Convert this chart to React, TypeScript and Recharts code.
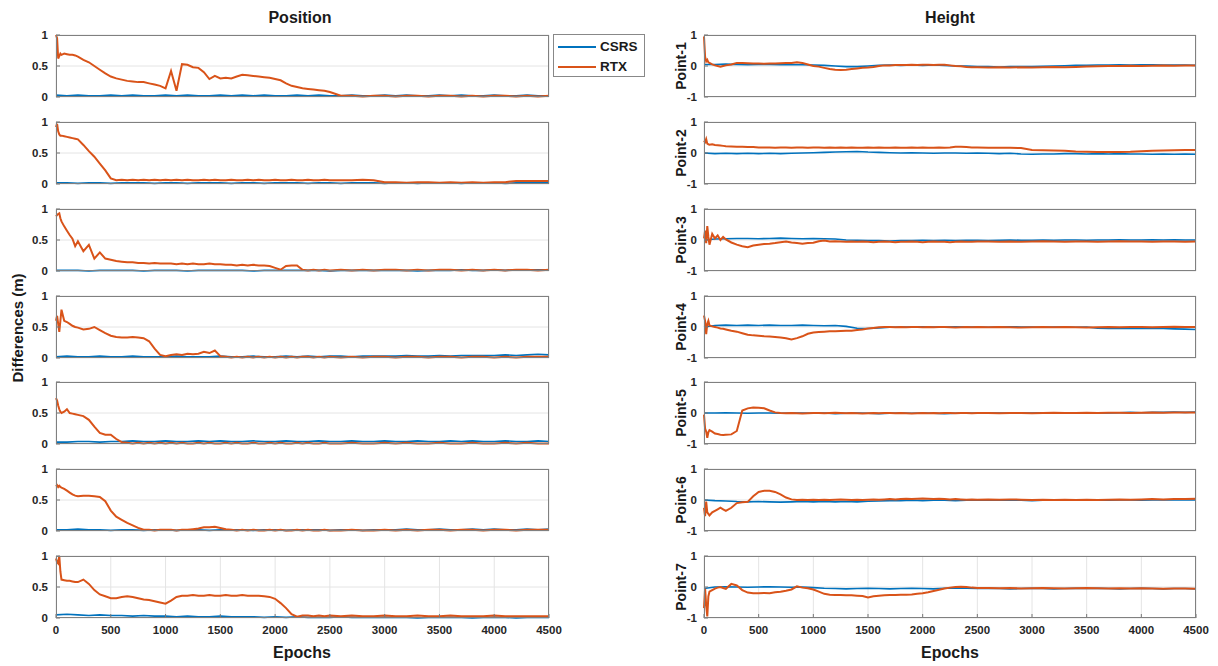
import { LineChart, Line, XAxis, YAxis, CartesianGrid } from "recharts";

const EPOCHS_RTX = [
  0, 10, 20, 30, 40, 50, 75, 100, 125, 150, 175, 200,
  250, 300, 350, 400, 450, 500, 550, 600, 650, 700, 750, 800, 850, 900, 950, 1000,
  1050, 1100, 1150, 1200, 1250, 1300, 1350, 1400, 1450, 1500, 1550, 1600, 1650, 1700, 1750,
  1800, 1850, 1900, 1950, 2000, 2050, 2100, 2150, 2200, 2250, 2300, 2350, 2400, 2450, 2500,
  2600, 2700, 2800, 2900, 3000, 3100, 3200, 3300, 3400, 3500, 3600, 3700, 3800, 3900, 4000,
  4100, 4200, 4300, 4400, 4500,
];

const EPOCHS_CSRS = [
  0, 100, 200, 300, 400, 500, 600, 700, 800, 900,
  1000, 1100, 1200, 1300, 1400, 1500, 1600, 1700, 1800, 1900,
  2000, 2100, 2200, 2300, 2400, 2500, 2600, 2700, 2800, 2900,
  3000, 3100, 3200, 3300, 3400, 3500, 3600, 3700, 3800, 3900,
  4000, 4100, 4200, 4300, 4400, 4500,
];

const X_TICKS = [0, 500, 1000, 1500, 2000, 2500, 3000, 3500, 4000, 4500];
const POS_TICKS = [0, 0.5, 1];
const HGT_TICKS = [-1, 0, 1];
const POINT_LABELS = ["Point-1", "Point-2", "Point-3", "Point-4", "Point-5", "Point-6", "Point-7"];

// ---- Position, RTX ----
const POS_RTX_1 = [
  1.0, 0.95, 0.62, 0.66, 0.7, 0.68, 0.7, 0.69, 0.68, 0.68, 0.67, 0.65,
  0.6, 0.56, 0.5, 0.44, 0.38, 0.33, 0.3, 0.28, 0.26, 0.25, 0.24, 0.24, 0.22, 0.2, 0.18, 0.14,
  0.42, 0.1, 0.53, 0.52, 0.48, 0.47, 0.4, 0.29, 0.34, 0.3, 0.31, 0.3, 0.33, 0.36, 0.35,
  0.34, 0.33, 0.32, 0.31, 0.29, 0.27, 0.22, 0.18, 0.16, 0.14, 0.13, 0.12, 0.11, 0.1, 0.08,
  0.02, 0.02, 0.01, 0.02, 0.02, 0.01, 0.02, 0.02, 0.01, 0.02, 0.02, 0.01, 0.02, 0.01, 0.02,
  0.02, 0.01, 0.02, 0.01, 0.02,
];
const POS_RTX_2 = [
  0.92, 0.97, 0.85, 0.8, 0.78, 0.78, 0.77, 0.76, 0.75, 0.74, 0.73, 0.72,
  0.63, 0.53, 0.44, 0.33, 0.22, 0.09, 0.06, 0.07, 0.06, 0.07, 0.06, 0.07, 0.06, 0.07, 0.06, 0.07,
  0.06, 0.07, 0.06, 0.07, 0.06, 0.06, 0.07, 0.06, 0.07, 0.06, 0.06, 0.07, 0.06, 0.06, 0.07,
  0.06, 0.07, 0.06, 0.06, 0.07, 0.06, 0.06, 0.07, 0.06, 0.06, 0.07, 0.06, 0.06, 0.07, 0.06,
  0.06, 0.06, 0.07, 0.06, 0.03, 0.03, 0.02, 0.03, 0.03, 0.02, 0.03, 0.02, 0.03, 0.02, 0.03,
  0.03, 0.05, 0.05, 0.05, 0.05,
];
const POS_RTX_3 = [
  0.88, 0.9, 0.92, 0.93, 0.85, 0.8, 0.72, 0.65, 0.58, 0.52, 0.4, 0.48,
  0.32, 0.42, 0.2, 0.3, 0.2, 0.18, 0.16, 0.15, 0.14, 0.14, 0.13, 0.13, 0.12, 0.13, 0.12, 0.12,
  0.12, 0.11, 0.12, 0.11, 0.12, 0.11, 0.11, 0.12, 0.11, 0.11, 0.1, 0.1, 0.09, 0.1, 0.09,
  0.1, 0.09, 0.09, 0.08, 0.05, 0.02, 0.08, 0.09, 0.09, 0.02, 0.01, 0.02, 0.01, 0.02, 0.01,
  0.02, 0.01, 0.02, 0.01, 0.02, 0.02, 0.01, 0.02, 0.01, 0.02, 0.02, 0.01, 0.02, 0.01, 0.02,
  0.01, 0.02, 0.02, 0.01, 0.02,
];
const POS_RTX_4 = [
  0.6, 0.68, 0.55, 0.42, 0.6, 0.78, 0.6, 0.58, 0.55, 0.52, 0.5, 0.49,
  0.46, 0.47, 0.5, 0.45, 0.4, 0.36, 0.34, 0.33, 0.33, 0.34, 0.33, 0.32, 0.27, 0.15, 0.05, 0.03,
  0.05, 0.06, 0.05, 0.07, 0.06, 0.07, 0.1, 0.08, 0.12, 0.03, 0.02, 0.01, 0.02, 0.01, 0.02,
  0.01, 0.02, 0.01, 0.02, 0.01, 0.02, 0.01, 0.02, 0.01, 0.02, 0.02, 0.01, 0.02, 0.01, 0.02,
  0.01, 0.02, 0.01, 0.02, 0.02, 0.01, 0.02, 0.02, 0.01, 0.02, 0.02, 0.01, 0.02, 0.02, 0.01,
  0.02, 0.01, 0.02, 0.02, 0.02,
];
const POS_RTX_5 = [
  0.74, 0.7, 0.62, 0.56, 0.52, 0.5, 0.52, 0.56, 0.5, 0.49, 0.48, 0.47,
  0.45, 0.39, 0.28, 0.18, 0.15, 0.15, 0.08, 0.03, 0.02, 0.01, 0.02, 0.01, 0.02, 0.01, 0.02, 0.01,
  0.02, 0.01, 0.02, 0.01, 0.01, 0.02, 0.01, 0.02, 0.01, 0.01, 0.02, 0.01, 0.02, 0.01, 0.01,
  0.02, 0.01, 0.01, 0.02, 0.01, 0.02, 0.01, 0.01, 0.02, 0.01, 0.02, 0.01, 0.01, 0.02, 0.01,
  0.01, 0.02, 0.01, 0.01, 0.02, 0.01, 0.02, 0.01, 0.01, 0.02, 0.01, 0.01, 0.02, 0.01, 0.01,
  0.02, 0.01, 0.02, 0.01, 0.01,
];
const POS_RTX_6 = [
  0.72, 0.74, 0.71, 0.73, 0.71, 0.7, 0.68, 0.65, 0.62, 0.59, 0.57, 0.56,
  0.57, 0.57, 0.56, 0.55, 0.48, 0.33, 0.23, 0.18, 0.13, 0.09, 0.05, 0.02, 0.02, 0.01, 0.02, 0.02,
  0.02, 0.01, 0.02, 0.02, 0.03, 0.04, 0.06, 0.06, 0.07, 0.05, 0.03, 0.02, 0.01, 0.02, 0.01,
  0.02, 0.01, 0.01, 0.02, 0.01, 0.02, 0.01, 0.01, 0.02, 0.01, 0.02, 0.01, 0.01, 0.02, 0.01,
  0.01, 0.02, 0.01, 0.01, 0.02, 0.01, 0.02, 0.01, 0.02, 0.02, 0.01, 0.02, 0.02, 0.01, 0.02,
  0.02, 0.01, 0.02, 0.02, 0.02,
];
const POS_RTX_7 = [
  0.96, 0.9, 0.88, 1.0, 0.75, 0.62, 0.61, 0.6, 0.6, 0.59, 0.58, 0.58,
  0.62, 0.55, 0.45, 0.38, 0.35, 0.32, 0.32, 0.34, 0.35, 0.34, 0.32, 0.3, 0.29, 0.27, 0.25, 0.23,
  0.28, 0.34, 0.36, 0.36, 0.37, 0.36, 0.36, 0.37, 0.36, 0.36, 0.37, 0.36, 0.36, 0.37, 0.36,
  0.36, 0.36, 0.35, 0.34, 0.31, 0.24, 0.16, 0.06, 0.02, 0.04, 0.04, 0.03, 0.04, 0.03, 0.04,
  0.03, 0.04, 0.03, 0.03, 0.04, 0.03, 0.03, 0.04, 0.03, 0.03, 0.04, 0.03, 0.03, 0.03, 0.04,
  0.03, 0.03, 0.03, 0.03, 0.03,
];

// ---- Position, CSRS ----
const POS_CSRS_1 = [
  0.03, 0.02, 0.03, 0.02, 0.02, 0.03, 0.02, 0.03, 0.02, 0.02,
  0.03, 0.02, 0.03, 0.02, 0.02, 0.03, 0.02, 0.03, 0.02, 0.03,
  0.02, 0.02, 0.03, 0.02, 0.03, 0.02, 0.02, 0.03, 0.02, 0.02,
  0.03, 0.02, 0.03, 0.02, 0.02, 0.03, 0.02, 0.03, 0.02, 0.02,
  0.03, 0.02, 0.02, 0.03, 0.02, 0.02,
];
const POS_CSRS_2 = [
  0.02, 0.02, 0.01, 0.02, 0.02, 0.01, 0.02, 0.02, 0.02, 0.01,
  0.02, 0.02, 0.01, 0.02, 0.02, 0.02, 0.01, 0.02, 0.02, 0.01,
  0.02, 0.02, 0.02, 0.01, 0.02, 0.02, 0.01, 0.02, 0.02, 0.02,
  0.01, 0.02, 0.02, 0.01, 0.02, 0.02, 0.02, 0.01, 0.02, 0.02,
  0.02, 0.01, 0.02, 0.02, 0.02, 0.02,
];
const POS_CSRS_3 = [
  0.01, 0.01, 0.01, 0.0, 0.01, 0.01, 0.01, 0.01, 0.0, 0.01,
  0.01, 0.01, 0.0, 0.01, 0.01, 0.01, 0.01, 0.01, 0.0, 0.01,
  0.01, 0.01, 0.01, 0.01, 0.01, 0.0, 0.01, 0.01, 0.01, 0.01,
  0.01, 0.01, 0.01, 0.0, 0.01, 0.01, 0.01, 0.02, 0.01, 0.01,
  0.02, 0.01, 0.02, 0.02, 0.02, 0.02,
];
const POS_CSRS_4 = [
  0.02, 0.03, 0.02, 0.02, 0.03, 0.02, 0.02, 0.03, 0.02, 0.02,
  0.02, 0.03, 0.02, 0.02, 0.02, 0.03, 0.02, 0.02, 0.03, 0.02,
  0.02, 0.03, 0.02, 0.03, 0.02, 0.03, 0.03, 0.02, 0.03, 0.03,
  0.03, 0.03, 0.04, 0.03, 0.03, 0.04, 0.03, 0.04, 0.04, 0.04,
  0.04, 0.05, 0.04, 0.05, 0.06, 0.05,
];
const POS_CSRS_5 = [
  0.03, 0.03, 0.04, 0.04, 0.03, 0.04, 0.04, 0.05, 0.04, 0.04,
  0.05, 0.04, 0.04, 0.05, 0.04, 0.05, 0.04, 0.04, 0.05, 0.04,
  0.04, 0.05, 0.04, 0.04, 0.05, 0.04, 0.04, 0.05, 0.04, 0.04,
  0.05, 0.04, 0.04, 0.05, 0.04, 0.04, 0.05, 0.04, 0.05, 0.04,
  0.04, 0.05, 0.04, 0.04, 0.05, 0.04,
];
const POS_CSRS_6 = [
  0.02, 0.02, 0.03, 0.02, 0.02, 0.01, 0.02, 0.02, 0.01, 0.02,
  0.02, 0.01, 0.02, 0.02, 0.01, 0.02, 0.02, 0.02, 0.01, 0.02,
  0.02, 0.01, 0.02, 0.02, 0.02, 0.01, 0.02, 0.02, 0.01, 0.02,
  0.02, 0.02, 0.03, 0.02, 0.02, 0.03, 0.02, 0.02, 0.03, 0.02,
  0.03, 0.02, 0.02, 0.03, 0.02, 0.03,
];
const POS_CSRS_7 = [
  0.05, 0.06, 0.05, 0.04, 0.05, 0.04, 0.04, 0.03, 0.04, 0.03,
  0.03, 0.02, 0.03, 0.02, 0.02, 0.03, 0.02, 0.02, 0.02, 0.01,
  0.02, 0.01, 0.02, 0.01, 0.01, 0.01, 0.02, 0.01, 0.01, 0.01,
  0.01, 0.01, 0.01, 0.0, 0.01, 0.01, 0.01, 0.01, 0.0, 0.01,
  0.01, 0.01, 0.0, 0.01, 0.01, 0.01,
];

// ---- Height, RTX ----
const HGT_RTX_1 = [
  0.95, 0.3, 0.15, 0.2, 0.12, 0.1, 0.05, 0.02, 0.0, -0.02, 0.0, 0.02,
  0.05, 0.1, 0.1, 0.09, 0.08, 0.08, 0.07, 0.08, 0.08, 0.09, 0.1, 0.1, 0.12, 0.1, 0.05, 0.0,
  -0.02, -0.06, -0.1, -0.12, -0.13, -0.12, -0.1, -0.08, -0.06, -0.05, -0.03, 0.0, 0.02, 0.02, 0.03,
  0.03, 0.03, 0.04, 0.03, 0.04, 0.04, 0.03, 0.04, 0.04, 0.02, 0.0, -0.01, -0.03, -0.04, -0.04,
  -0.05, -0.04, -0.05, -0.04, -0.05, -0.04, -0.03, -0.04, -0.03, -0.02, -0.01, 0.0, 0.0, 0.01, 0.0,
  0.01, 0.02, 0.01, 0.02, 0.02,
];
const HGT_RTX_2 = [
  0.4, 0.35, 0.45, 0.3, 0.28, 0.27, 0.28, 0.26, 0.25, 0.24, 0.23, 0.22,
  0.21, 0.2, 0.2, 0.19, 0.19, 0.18, 0.18, 0.18, 0.17, 0.18, 0.18, 0.17, 0.18, 0.18, 0.17, 0.18,
  0.18, 0.17, 0.18, 0.17, 0.18, 0.17, 0.18, 0.17, 0.17, 0.18, 0.17, 0.18, 0.17, 0.17, 0.18,
  0.17, 0.17, 0.18, 0.17, 0.18, 0.17, 0.17, 0.18, 0.17, 0.18, 0.2, 0.2, 0.19, 0.18, 0.18,
  0.17, 0.17, 0.17, 0.16, 0.1, 0.09, 0.08, 0.07, 0.05, 0.04, 0.03, 0.03, 0.03, 0.04, 0.06,
  0.07, 0.08, 0.09, 0.1, 0.1,
];
const HGT_RTX_3 = [
  0.05, 0.3, -0.1, 0.45, 0.1, -0.15, 0.2, 0.05, 0.15, 0.0, 0.1, 0.02,
  -0.08, -0.15, -0.2, -0.23, -0.18, -0.15, -0.13, -0.12, -0.1, -0.07, -0.05, -0.08, -0.1, -0.12, -0.1, -0.09,
  -0.04, -0.02, -0.05, -0.04, -0.05, -0.06, -0.05, -0.06, -0.05, -0.06, -0.07, -0.06, -0.05, -0.06, -0.07,
  -0.06, -0.06, -0.05, -0.06, -0.07, -0.06, -0.05, -0.06, -0.06, -0.07, -0.06, -0.05, -0.06, -0.06, -0.05,
  -0.05, -0.06, -0.05, -0.06, -0.05, -0.04, -0.05, -0.06, -0.05, -0.05, -0.06, -0.05, -0.04, -0.05, -0.05,
  -0.06, -0.05, -0.05, -0.06, -0.05,
];
const HGT_RTX_4 = [
  0.37, 0.2, -0.23, 0.1, 0.2, 0.05, 0.02, 0.0, -0.02, -0.05, -0.06, -0.08,
  -0.12, -0.15, -0.2, -0.25, -0.27, -0.28, -0.3, -0.31, -0.32, -0.34, -0.36, -0.4, -0.36, -0.3, -0.22, -0.18,
  -0.16, -0.15, -0.14, -0.14, -0.13, -0.12, -0.12, -0.1, -0.08, -0.05, -0.03, -0.01, 0.0, 0.0, -0.01,
  0.0, -0.01, 0.0, 0.0, -0.01, 0.0, -0.01, 0.0, 0.0, -0.01, -0.02, -0.01, 0.0, -0.01, 0.0,
  -0.01, 0.0, -0.01, -0.02, -0.01, 0.0, -0.01, 0.0, -0.01, -0.02, -0.01, 0.0, -0.01, 0.0, 0.0,
  -0.01, 0.0, 0.01, 0.0, 0.0,
];
const HGT_RTX_5 = [
  -0.05, -0.5, -0.6, -0.8, -0.62, -0.55, -0.6, -0.66, -0.68, -0.7, -0.71, -0.7,
  -0.69, -0.58, 0.08, 0.15, 0.18, 0.17, 0.15, 0.08, 0.02, 0.0, -0.01, 0.0, -0.01, -0.02, -0.01, 0.0,
  0.0, -0.01, 0.0, 0.01, 0.0, -0.01, 0.0, -0.01, -0.02, -0.01, 0.0, -0.01, 0.0, 0.0, -0.01,
  0.0, -0.01, -0.02, -0.01, 0.0, -0.01, 0.0, -0.01, 0.0, 0.0, -0.01, 0.0, 0.0, -0.01, 0.0,
  0.0, -0.01, 0.0, 0.0, -0.01, 0.0, 0.01, 0.0, 0.0, 0.01, 0.0, 0.01, 0.01, 0.0, 0.01,
  0.02, 0.01, 0.02, 0.02, 0.02,
];
const HGT_RTX_6 = [
  -0.25, -0.52, -0.05, -0.4, -0.45, -0.5, -0.4, -0.35, -0.3, -0.25, -0.3, -0.35,
  -0.25, -0.1, -0.07, -0.06, 0.12, 0.26, 0.3, 0.3, 0.26, 0.18, 0.08, 0.02, 0.0, 0.01, 0.0, 0.01,
  0.0, 0.01, 0.0, 0.01, 0.02, 0.01, 0.0, 0.01, 0.0, 0.01, 0.02, 0.01, 0.02, 0.03, 0.02,
  0.03, 0.04, 0.03, 0.04, 0.05, 0.04, 0.03, 0.04, 0.03, 0.02, 0.03, 0.02, 0.01, 0.02, 0.01,
  0.02, 0.01, 0.02, 0.01, 0.0, 0.01, 0.0, 0.01, 0.0, 0.01, 0.0, 0.01, 0.02, 0.01, 0.02,
  0.03, 0.02, 0.03, 0.03, 0.04,
];
const HGT_RTX_7 = [
  -0.68, -0.05, -0.6, -0.95, -0.3, -0.15, -0.1, -0.05, -0.02, 0.0, -0.03, -0.06,
  0.1, 0.05, -0.1, -0.18, -0.2, -0.2, -0.19, -0.2, -0.17, -0.15, -0.12, -0.08, 0.02, -0.02, -0.04, -0.08,
  -0.15, -0.22, -0.25, -0.26, -0.26, -0.27, -0.27, -0.28, -0.29, -0.34, -0.3, -0.28, -0.27, -0.26, -0.26,
  -0.25, -0.25, -0.24, -0.22, -0.2, -0.17, -0.13, -0.09, -0.05, -0.02, 0.0, 0.01, 0.0, -0.02, -0.03,
  -0.03, -0.04, -0.03, -0.05, -0.04, -0.03, -0.04, -0.05, -0.04, -0.03, -0.04, -0.05, -0.04, -0.05, -0.04,
  -0.05, -0.06, -0.05, -0.05, -0.06,
];

// ---- Height, CSRS ----
const HGT_CSRS_1 = [
  0.05, 0.05, 0.06, 0.05, 0.04, 0.05, 0.05, 0.04, 0.05, 0.04,
  0.03, 0.02, 0.0, -0.02, -0.02, 0.0, 0.02, 0.03, 0.02, 0.03,
  0.02, 0.03, 0.02, 0.0, 0.0, -0.02, -0.02, -0.03, -0.02, -0.02,
  -0.02, -0.01, 0.0, 0.01, 0.02, 0.02, 0.03, 0.03, 0.04, 0.03,
  0.04, 0.04, 0.03, 0.03, 0.03, 0.02,
];
const HGT_CSRS_2 = [
  0.0, -0.02, -0.01, -0.02, -0.01, -0.02, -0.01, -0.02, -0.01, 0.0,
  0.01, 0.02, 0.03, 0.04, 0.05, 0.03, 0.02, 0.01, 0.0, 0.01,
  0.0, -0.01, 0.0, 0.0, -0.01, 0.0, -0.01, -0.02, -0.01, -0.03,
  -0.04, -0.03, -0.03, -0.02, -0.02, -0.03, -0.02, -0.03, -0.02, -0.03,
  -0.03, -0.04, -0.03, -0.04, -0.03, -0.04,
];
const HGT_CSRS_3 = [
  0.0, 0.03, 0.04, 0.05, 0.05, 0.04, 0.05, 0.06, 0.05, 0.04,
  0.05, 0.04, 0.03, 0.0, -0.01, -0.02, -0.02, -0.03, -0.02, -0.02,
  -0.01, -0.02, -0.01, -0.02, -0.01, -0.01, -0.02, -0.01, 0.0, -0.01,
  -0.01, 0.0, -0.01, 0.0, 0.0, -0.01, 0.0, 0.0, 0.01, 0.0,
  0.0, 0.01, 0.0, 0.01, 0.0, 0.0,
];
const HGT_CSRS_4 = [
  0.0, 0.05, 0.06, 0.05, 0.06, 0.05, 0.06, 0.05, 0.05, 0.06,
  0.05, 0.04, 0.05, 0.02, -0.04, -0.05, -0.03, -0.01, 0.0, 0.0,
  0.01, 0.0, 0.0, 0.01, 0.0, 0.0, -0.01, 0.0, 0.01, 0.0,
  0.0, -0.01, 0.0, 0.0, -0.01, 0.0, -0.04, -0.05, -0.04, -0.05,
  -0.04, -0.05, -0.05, -0.06, -0.07, -0.08,
];
const HGT_CSRS_5 = [
  0.0, 0.0, 0.01, 0.0, -0.01, 0.0, 0.0, -0.01, 0.0, 0.0,
  -0.01, 0.0, -0.02, -0.01, 0.0, -0.01, -0.02, -0.01, 0.0, -0.01,
  0.0, -0.01, -0.02, -0.01, 0.0, -0.01, 0.0, 0.0, -0.01, 0.0,
  0.0, 0.01, 0.0, 0.0, 0.01, 0.0, 0.01, 0.0, 0.01, 0.02,
  0.01, 0.02, 0.02, 0.03, 0.02, 0.03,
];
const HGT_CSRS_6 = [
  0.0, -0.02, -0.03, -0.05, -0.06, -0.05, -0.06, -0.07, -0.06, -0.05,
  -0.06, -0.05, -0.06, -0.05, -0.06, -0.04, -0.03, -0.02, -0.02, -0.01,
  -0.02, -0.01, -0.01, -0.02, -0.01, 0.0, -0.01, -0.01, 0.0, -0.01,
  -0.02, -0.01, -0.01, 0.0, -0.01, -0.01, 0.0, -0.01, 0.0, 0.0,
  -0.01, 0.0, 0.0, 0.01, 0.0, 0.0,
];
const HGT_CSRS_7 = [
  -0.05, 0.0, 0.01, 0.0, -0.01, 0.0, 0.01, 0.0, -0.01, 0.0,
  -0.02, -0.04, -0.05, -0.06, -0.05, -0.04, -0.05, -0.06, -0.05, -0.04,
  -0.05, -0.06, -0.04, -0.03, -0.04, -0.05, -0.04, -0.05, -0.06, -0.05,
  -0.04, -0.05, -0.06, -0.05, -0.04, -0.05, -0.04, -0.05, -0.06, -0.05,
  -0.04, -0.05, -0.06, -0.05, -0.05, -0.06,
];

const POS_RTX = [POS_RTX_1, POS_RTX_2, POS_RTX_3, POS_RTX_4, POS_RTX_5, POS_RTX_6, POS_RTX_7];
const POS_CSRS = [POS_CSRS_1, POS_CSRS_2, POS_CSRS_3, POS_CSRS_4, POS_CSRS_5, POS_CSRS_6, POS_CSRS_7];
const HGT_RTX = [HGT_RTX_1, HGT_RTX_2, HGT_RTX_3, HGT_RTX_4, HGT_RTX_5, HGT_RTX_6, HGT_RTX_7];
const HGT_CSRS = [HGT_CSRS_1, HGT_CSRS_2, HGT_CSRS_3, HGT_CSRS_4, HGT_CSRS_5, HGT_CSRS_6, HGT_CSRS_7];

const BLUE = "#0072BD";
const ORANGE = "#D95319";
const FONT = '"Liberation Sans", Arial, Helvetica, sans-serif';
const PANEL_TOPS = [35, 122, 209, 296, 382, 469, 556];
const PLOT_H = 62;

const toRows = (xs: number[], ys: number[]) => xs.map((x, i) => ({ x, y: ys[i] }));

const tickStyle = { fontSize: 11.5, fontWeight: 700, fill: "#262626", fontFamily: FONT };

interface PanelProps {
  left: number;
  top: number;
  width: number;
  yAxisWidth: number;
  rightMargin: number;
  domain: [number, number];
  ticks: number[];
  yTickMargin: number;
  csrs: number[];
  rtx: number[];
  showX: boolean;
}

function Panel({ left, top, width, yAxisWidth, rightMargin, domain, ticks, yTickMargin, csrs, rtx, showX }: PanelProps) {
  const xAxisH = showX ? 26 : 0;
  const height = PLOT_H + 5 + (showX ? xAxisH : 5);
  const plotW = width - yAxisWidth - rightMargin;
  return (
    <div style={{ position: "absolute", left, top: top - 5, width, height }}>
      <LineChart width={width} height={height} margin={{ top: 5, right: rightMargin, bottom: showX ? 0 : 5, left: 0 }}>
        <CartesianGrid stroke="#e4e4e4" strokeWidth={1} />
        <XAxis
          dataKey="x"
          type="number"
          domain={[0, 4500]}
          ticks={X_TICKS}
          interval={0}
          height={xAxisH}
          tick={showX ? tickStyle : false}
          tickSize={-4}
          tickMargin={12}
          tickLine={{ stroke: "#777" }}
          axisLine={false}
        />
        <XAxis
          xAxisId="top"
          orientation="top"
          type="number"
          domain={[0, 4500]}
          ticks={X_TICKS}
          interval={0}
          height={0}
          tick={false}
          tickSize={-4}
          tickLine={{ stroke: "#777" }}
          axisLine={false}
        />
        <YAxis
          type="number"
          domain={domain}
          ticks={ticks}
          interval={0}
          width={yAxisWidth}
          tick={tickStyle}
          tickSize={-4}
          tickMargin={yTickMargin}
          tickLine={{ stroke: "#777" }}
          axisLine={false}
        />
        <YAxis
          yAxisId="right"
          orientation="right"
          type="number"
          domain={domain}
          ticks={ticks}
          interval={0}
          width={0}
          tick={false}
          tickSize={-4}
          tickLine={{ stroke: "#777" }}
          axisLine={false}
        />
        <Line data={toRows(EPOCHS_CSRS, csrs)} dataKey="y" stroke={BLUE} strokeWidth={1.6} dot={false} isAnimationActive={false} />
        <Line data={toRows(EPOCHS_RTX, rtx)} dataKey="y" stroke={ORANGE} strokeWidth={2} dot={false} isAnimationActive={false} />
      </LineChart>
      <div
        style={{
          position: "absolute",
          left: yAxisWidth,
          top: 5,
          width: plotW,
          height: PLOT_H,
          border: "1px solid #808080",
          boxSizing: "border-box",
          pointerEvents: "none",
        }}
      />
    </div>
  );
}

const textBold = { position: "absolute" as const, fontFamily: FONT, fontWeight: 700, color: "#1a1a1a", whiteSpace: "nowrap" as const };

export default function App() {
  return (
    <div style={{ position: "absolute", left: 0, top: 0, width: 1218, height: 666, background: "#fff", fontFamily: FONT, overflow: "hidden" }}>
      <div style={{ ...textBold, left: 300, top: 18, fontSize: 16, transform: "translate(-50%, -50%)" }}>Position</div>
      <div style={{ ...textBold, left: 950, top: 18, fontSize: 16, transform: "translate(-50%, -50%)" }}>Height</div>
      <div style={{ ...textBold, left: 302, top: 653, fontSize: 16, transform: "translate(-50%, -50%)" }}>Epochs</div>
      <div style={{ ...textBold, left: 950, top: 653, fontSize: 16, transform: "translate(-50%, -50%)" }}>Epochs</div>
      <div style={{ ...textBold, left: 17, top: 328, fontSize: 15, transform: "translate(-50%, -50%) rotate(-90deg)" }}>
        Differences (m)
      </div>

      {PANEL_TOPS.map((top, i) => (
        <Panel
          key={"p" + i}
          left={0}
          top={top}
          width={572}
          yAxisWidth={56}
          rightMargin={23}
          domain={[0, 1]}
          ticks={POS_TICKS}
          yTickMargin={12}
          csrs={POS_CSRS[i]}
          rtx={POS_RTX[i]}
          showX={i === PANEL_TOPS.length - 1}
        />
      ))}

      {PANEL_TOPS.map((top, i) => (
        <Panel
          key={"h" + i}
          left={640}
          top={top}
          width={578}
          yAxisWidth={64}
          rightMargin={22}
          domain={[-1, 1]}
          ticks={HGT_TICKS}
          yTickMargin={11}
          csrs={HGT_CSRS[i]}
          rtx={HGT_RTX[i]}
          showX={i === PANEL_TOPS.length - 1}
        />
      ))}

      {PANEL_TOPS.map((top, i) => (
        <div
          key={"l" + i}
          style={{ ...textBold, left: 681, top: top + PLOT_H / 2, fontSize: 14, transform: "translate(-50%, -50%) rotate(-90deg)" }}
        >
          {POINT_LABELS[i]}
        </div>
      ))}

      <div
        style={{
          position: "absolute",
          left: 553,
          top: 34,
          width: 92,
          height: 43,
          border: "1px solid #888",
          boxSizing: "border-box",
          background: "#fff",
        }}
      >
        <div style={{ position: "absolute", left: 4, top: 11, width: 38, height: 2, background: BLUE }} />
        <div style={{ ...textBold, left: 46, top: 4, fontSize: 13.5, lineHeight: "15px" }}>CSRS</div>
        <div style={{ position: "absolute", left: 4, top: 31, width: 38, height: 2, background: ORANGE }} />
        <div style={{ ...textBold, left: 46, top: 24, fontSize: 13.5, lineHeight: "15px" }}>RTX</div>
      </div>
    </div>
  );
}
